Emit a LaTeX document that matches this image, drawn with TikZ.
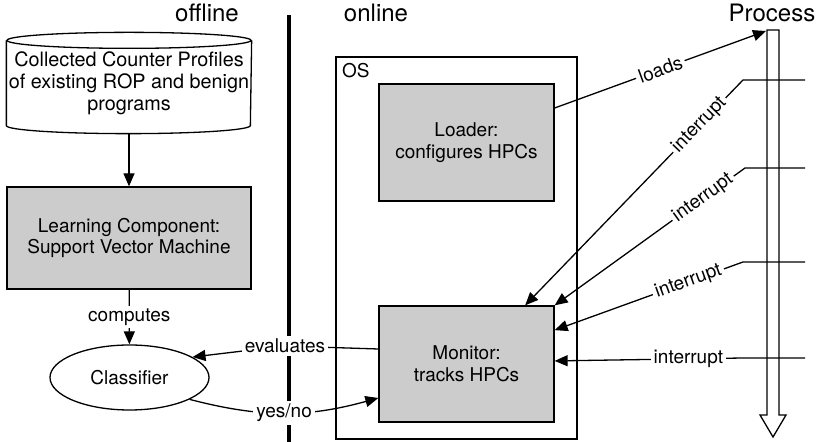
\documentclass[tikz,border=0pt]{standalone}
\usepackage{fontspec}
\setmainfont{TeX Gyre Heros}
\usetikzlibrary{arrows.meta,shapes.geometric}
\definecolor{boxgray}{RGB}{204,204,204}
\tikzset{
  txt/.style={font=\fontsize{9.5}{10.8}\selectfont, align=center},
  head/.style={font=\fontsize{12}{14}\selectfont},
  box/.style={txt, draw, fill=boxgray},
  lbl/.style={txt, fill=white, inner sep=1.5pt},
  arr/.style={-{Triangle[length=6.5pt,width=5.5pt]}},
}
\begin{document}
\begin{tikzpicture}[x=0.5pt,y=-0.5pt,line width=0.65pt]
\useasboundingbox (0,0) rectangle (830,442);

\node[head] (offline) at (207,13) {offline};
\node[head] (online) at (376,13) {online};
\node[head] (process) at (772,13) {Process};
\draw[line width=2pt] (289,15) -- (289,442);

\node[txt, font=\fontsize{9.9}{11}\selectfont, inner sep=0pt, minimum width=122pt, minimum height=42pt] (db) at (129,83) {Collected Counter Profiles\\of existing ROP and benign\\programs};
\draw (db.north west) -- (db.south west) arc[start angle=180, end angle=360, x radius=61pt, y radius=4pt] -- (db.north east);
\draw (db.north) ellipse[x radius=61pt, y radius=4pt];
\node[box, minimum width=122pt, minimum height=51pt] (learn) at (129,238) {Learning Component:\\Support Vector Machine};
\node[txt, draw, ellipse, minimum width=79.5pt, minimum height=32.5pt] (clf) at (129.5,377.5) {Classifier};

\node[draw, minimum width=120.5pt, minimum height=191pt] (os) at (456.5,248) {};
\node[txt, anchor=north west, inner sep=3pt] (oslabel) at (os.north west) {OS};
\node[box, minimum width=87.5pt, minimum height=58.5pt] (loader) at (466.5,142.5) {Loader:\\configures HPCs};
\node[box, minimum width=87.5pt, minimum height=58pt] (monitor) at (466.5,364) {Monitor:\\tracks HPCs};

\draw (767,30) -- (779,30) -- (779,415) -- (786,415) -- (773,437) -- (760,415) -- (767,415) -- cycle;
\coordinate (ptop) at (766,31);
\coordinate (irq1) at (805,80);
\coordinate (irq2) at (805,168);
\coordinate (irq3) at (805,262);
\coordinate (irq4) at (805,358);

\draw[arr] ([yshift=-4pt]db.south) -- (learn);
\draw[arr] (learn) -- node[lbl] {computes} (clf);
\draw[arr] ([yshift=7.5pt]monitor.west) -- (285,346) node[lbl] (evlbl) {evaluates} -- (clf.18);
\draw[arr] (clf.-20) to[bend right=15] node[lbl] {yes/no} ([yshift=-17pt]monitor.west);
\draw[arr] ([yshift=17.25pt]loader.east) -- node[lbl, sloped] {loads} (ptop);

\draw[arr] (irq1) -- (743,80) -- node[lbl, sloped, pos=0.2] {interrupt} (monitor.45);
\draw[arr] (irq2) -- (745,168) -- node[lbl, sloped, pos=0.22] {interrupt} (monitor.north east);
\draw[arr] (irq3) -- (743,262) -- node[lbl, sloped, pos=0.29] {interrupt} (monitor.21);
\draw[arr] (irq4) -- (743,358) -- node[lbl, pos=0.29] {interrupt} (monitor.2);
\end{tikzpicture}
\end{document}
